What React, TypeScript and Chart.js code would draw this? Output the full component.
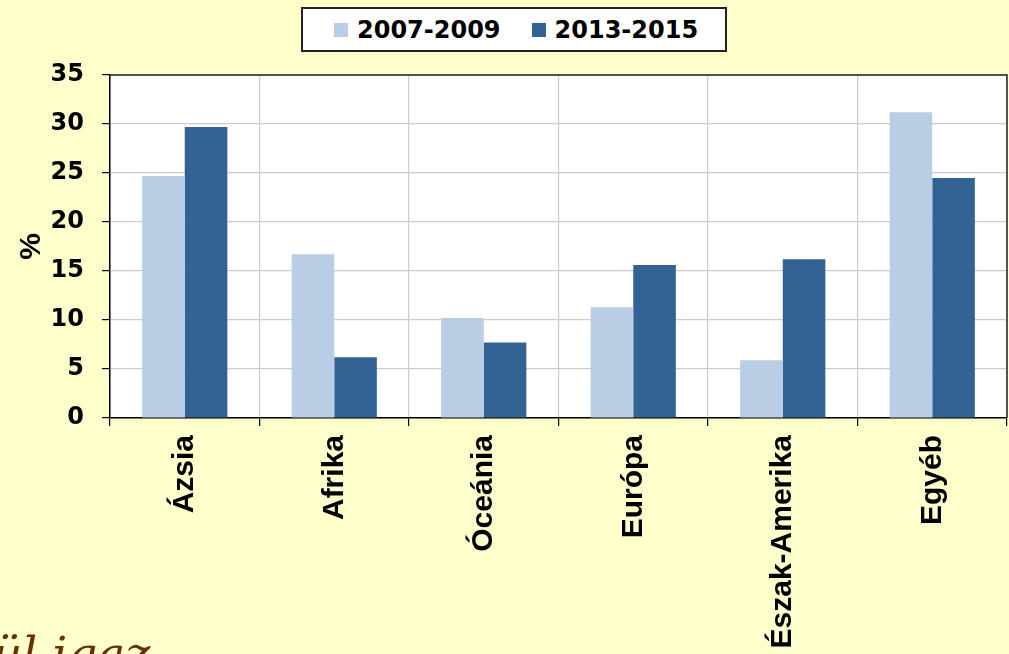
import React, { useEffect, useRef } from "react";
import { Chart, registerables } from "chart.js";

Chart.register(...registerables);

const categories = ["Ázsia", "Afrika", "Óceánia", "Európa", "Észak-Amerika", "Egyéb"];
const series1Label = "2007-2009";
const series2Label = "2013-2015";
const series1 = [24.7, 16.7, 10.2, 11.3, 5.9, 31.2];
const series2 = [29.7, 6.2, 7.7, 15.6, 16.2, 24.5];
const yTitle = "%";
const footerText = "ül igaz";

const LIGHT = "#B9CDE5";
const DARK = "#336394";

const borderBox = {
  id: "borderBox",
  beforeDraw(chart: any) {
    const { ctx, chartArea } = chart;
    ctx.save();
    ctx.fillStyle = "#FFFFFF";
    ctx.fillRect(chartArea.left, chartArea.top, chartArea.right - chartArea.left, chartArea.bottom - chartArea.top);
    ctx.restore();
  },
  afterDatasetsDraw(chart: any) {
    const { ctx, chartArea } = chart;
    ctx.save();
    ctx.strokeStyle = "#222";
    ctx.lineWidth = 1.5;
    ctx.beginPath();
    ctx.moveTo(chartArea.left, chartArea.top);
    ctx.lineTo(chartArea.right, chartArea.top);
    ctx.lineTo(chartArea.right, chartArea.bottom);
    ctx.stroke();
    ctx.restore();
  },
};

export default function App() {
  const ref = useRef<HTMLCanvasElement | null>(null);

  useEffect(() => {
    document.body.style.margin = "0";
    if (!ref.current) return;
    const chart = new Chart(ref.current, {
      type: "bar",
      data: {
        labels: categories,
        datasets: [
          {
            label: series1Label,
            data: series1,
            backgroundColor: LIGHT,
            categoryPercentage: 0.57,
            barPercentage: 1,
          },
          {
            label: series2Label,
            data: series2,
            backgroundColor: DARK,
            categoryPercentage: 0.57,
            barPercentage: 1,
          },
        ],
      },
      options: {
        responsive: false,
        animation: false,
        layout: { padding: { top: 75, right: 2, left: 0, bottom: 0 } },
        plugins: { legend: { display: false }, tooltip: { enabled: false } },
        scales: {
          x: {
            grid: {
              color: "#CCCCCC",
              offset: true,
              tickColor: "#000",
              tickLength: 8,
              lineWidth: 1.2,
            },
            border: { color: "#000", width: 1.5 },
            ticks: {
              color: "#000",
              font: { family: "'Liberation Sans', Arial", weight: "bold", size: 30 },
              maxRotation: 90,
              minRotation: 90,
              padding: 9,
            },
            afterFit: (s: any) => {
              s.height = 236;
            },
          },
          y: {
            min: 0,
            max: 35,
            grid: { color: "#CCCCCC", tickColor: "#000", tickLength: 8, lineWidth: 1.2 },
            border: { color: "#000", width: 1.5 },
            ticks: {
              stepSize: 5,
              color: "#000",
              padding: 18,
              font: { family: "'DejaVu Sans'", weight: "bold", size: 24 },
            },
            title: {
              display: true,
              text: yTitle,
              color: "#000",
              font: { family: "'Liberation Sans', Arial", weight: "bold", size: 30 },
              padding: { top: 14, bottom: 0 },
            },
            afterFit: (s: any) => {
              s.width = 110;
            },
          },
        },
      },
      plugins: [borderBox],
    });
    return () => chart.destroy();
  }, []);

  const sw = (c: string) => (
    <span
      style={{
        display: "inline-block",
        width: 14,
        height: 14,
        background: c,
        marginRight: 9,
        verticalAlign: "middle",
        position: "relative",
        top: -1,
      }}
    />
  );

  return (
    <div
      style={{
        position: "relative",
        width: 1009,
        height: 654,
        background: "#FFFFCC",
        overflow: "hidden",
      }}
    >
      <canvas ref={ref} width={1009} height={654} style={{ position: "absolute", left: 0, top: 0 }} />
      <div
        style={{
          position: "absolute",
          left: 301,
          top: 7,
          width: 422,
          height: 41,
          background: "#fff",
          border: "2px solid #222",
          boxSizing: "content-box",
          display: "flex",
          alignItems: "center",
          fontFamily: "'DejaVu Sans'",
          fontWeight: "bold",
          fontSize: 24,
          color: "#000",
          whiteSpace: "nowrap",
        }}
      >
        <span style={{ marginLeft: 31 }}>{sw(LIGHT)}{series1Label}</span>
        <span style={{ marginLeft: 31 }}>{sw(DARK)}{series2Label}</span>
      </div>
      <div
        style={{
          position: "absolute",
          left: -8,
          top: 630,
          fontFamily: "'DejaVu Serif'",
          fontStyle: "italic",
          fontSize: 47,
          lineHeight: 1,
          color: "#663300",
          whiteSpace: "nowrap",
        }}
      >
        {footerText}
      </div>
    </div>
  );
}
